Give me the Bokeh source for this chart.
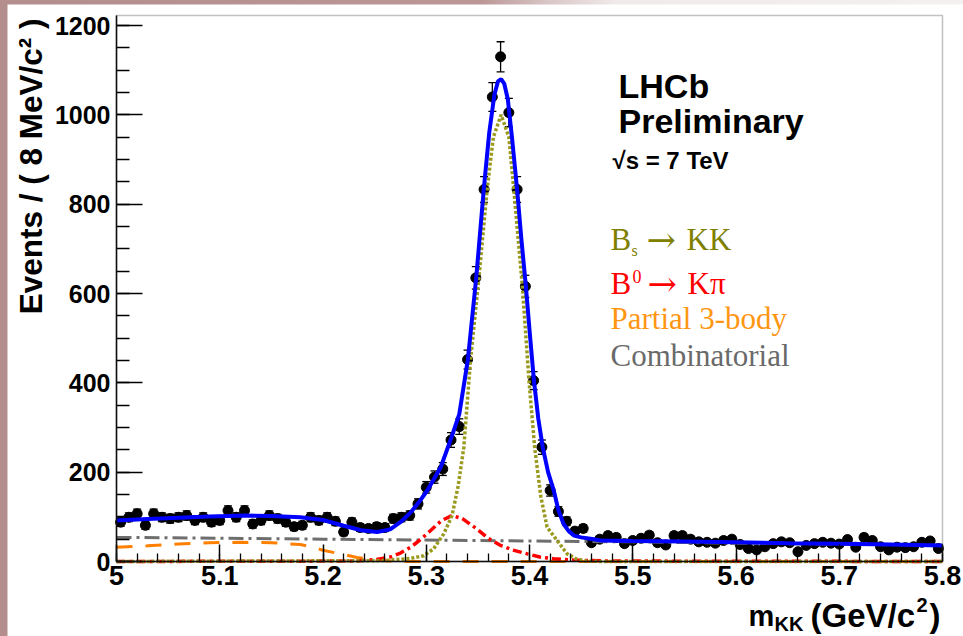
import math

from bokeh.embed import file_html
from bokeh.layouts import column
from bokeh.models import (BoxAnnotation, ColumnDataSource, FixedTicker, Label,
                          NumeralTickFormatter, Range1d, TeeHead, Whisker)
from bokeh.plotting import figure
from bokeh.resources import INLINE

# ---------------------------------------------------------------- data
# m_KK histogram: 100 bins of 8 MeV/c^2 from 5.0 to 5.8 GeV/c^2
BIN_LO = 5.0
BIN_W = 0.008
events = [
    88, 99, 107, 81, 107, 99, 96, 99, 103, 92,
    99, 88, 92, 114, 99, 114, 84, 92, 103, 96,
    88, 78, 81, 99, 92, 99, 90, 66, 88, 76,
    74, 78, 76, 96, 99, 103, 129, 166, 189, 207,
    272, 302, 452, 635, 833, 1040, 1130, 1005, 833, 616,
    405, 256, 159, 112, 90, 68, 74, 42, 50, 58,
    54, 40, 47, 52, 59, 42, 37, 58, 58, 50,
    44, 43, 41, 47, 50, 38, 29, 26, 33, 40,
    44, 42, 22, 36, 40, 43, 41, 39, 49, 32,
    54, 47, 33, 26, 32, 31, 33, 43, 46, 29,
]

# total fit
fit_x = [5.000, 5.030, 5.060, 5.090, 5.125, 5.150, 5.178, 5.200, 5.220, 5.237,
         5.2525, 5.265, 5.275, 5.285, 5.293, 5.301, 5.314, 5.324, 5.332, 5.3403,
         5.3484, 5.3557, 5.361, 5.366, 5.3695, 5.3725, 5.3755, 5.379, 5.383, 5.388,
         5.392, 5.3965, 5.4005, 5.4043, 5.4085, 5.4128, 5.418, 5.4235, 5.428, 5.433,
         5.438, 5.443, 5.450, 5.459, 5.469, 5.500, 5.550, 5.600, 5.650, 5.700,
         5.750, 5.800]
fit_y = [92, 95, 98, 101, 103, 102, 99, 93, 80, 70,
         66, 72, 88, 110, 133, 159, 211, 275, 330, 452,
         635, 833, 960, 1045, 1075, 1080, 1070, 1035, 950, 833,
         725, 616, 505, 405, 320, 256, 200, 159, 115, 84,
         68, 58, 54, 51, 47, 46, 45, 43, 41, 40,
         38, 36]

# Bs -> KK signal
bs_x = [5.000, 5.260, 5.285, 5.2975, 5.307, 5.317, 5.325, 5.331, 5.3364, 5.3429,
        5.351, 5.359, 5.365, 5.3725, 5.380, 5.3848, 5.3931, 5.3995, 5.405, 5.411,
        5.417, 5.4268, 5.4365, 5.445, 5.455, 5.470, 5.800]
bs_y = [0, 2, 7, 13, 28, 62, 103, 170, 256, 452,
        635, 833, 950, 1000, 950, 833, 616, 405, 255, 145,
        77, 47, 17, 6, 1, 0, 0]

# B0 -> K pi reflection
b0_x = [5.000, 5.230, 5.250, 5.265, 5.275, 5.285, 5.295, 5.304, 5.315, 5.325,
        5.335, 5.349, 5.360, 5.372, 5.385, 5.398, 5.410, 5.4235, 5.445, 5.480, 5.800]
b0_y = [0, 1, 4, 10, 19, 32, 50, 69, 92, 103,
        96, 73, 52, 36, 25, 17, 10, 6, 3, 1, 0]

# partially reconstructed 3-body
p3_x = [5.000, 5.030, 5.060, 5.090, 5.120, 5.150, 5.178, 5.190, 5.200, 5.217,
        5.233, 5.250, 5.265, 5.280, 5.300, 5.800]
p3_y = [32, 35, 39, 42, 43, 42, 38, 32, 25, 17,
        9, 3, 1, 0, 0, 0]

# combinatorial background
cb_x = [5.0, 5.1, 5.2, 5.3, 5.4, 5.5, 5.6, 5.7, 5.8]
cb_y = [54, 52, 50, 48, 46, 44, 41, 39, 36]

x_tick_labels = ["5", "5.1", "5.2", "5.3", "5.4", "5.5", "5.6", "5.7", "5.8"]
y_tick_values = [0, 200, 400, 600, 800, 1000, 1200]

# ---------------------------------------------------------------- geometry (page pixels)
PAGE_W, PAGE_H = 963, 636
PAD_L, PAD_T = 7, 4
BOX_L, BOX_T, BOX_W, BOX_H = 116, 15, 826, 546
BOX_B = BOX_T + BOX_H
X_LO, X_HI = 5.0, 5.8
Y_LO = 0.0
Y_HI = BOX_H * 1200.0 / 536.0


def fx(px):
    return X_LO + (px - BOX_L) * (X_HI - X_LO) / BOX_W


def fy(py):
    return Y_LO + (BOX_B - py) * (Y_HI - Y_LO) / BOX_H


# the drawing area spans the whole canvas; the axes sit at the histogram edges
p = figure(width=PAGE_W - PAD_L, height=PAGE_H - PAD_T, title=None,
           x_range=Range1d(fx(PAD_L), fx(PAGE_W)),
           y_range=Range1d(fy(PAGE_H), fy(PAD_T)),
           output_backend="svg", toolbar_location=None, min_border=0)
p.background_fill_color = "white"
p.border_fill_color = "white"
p.outline_line_color = None
p.xgrid.visible = False
p.ygrid.visible = False

x_ticks = [float(s) for s in x_tick_labels]
x_minor = [round(X_LO + 0.02 * k, 3) for k in range(41)]
p.xaxis.ticker = FixedTicker(ticks=x_ticks, minor_ticks=x_minor)
p.xaxis.formatter = NumeralTickFormatter(format="0.[0]")
p.yaxis.ticker = FixedTicker(ticks=y_tick_values, minor_ticks=list(range(0, 1251, 50)))
p.xaxis.fixed_location = Y_LO
p.yaxis.fixed_location = X_LO
p.xaxis.bounds = (X_LO, X_HI)
p.yaxis.bounds = (Y_LO, Y_HI)

for ax in (p.xaxis[0], p.yaxis[0]):
    ax.axis_line_color = "black"
    ax.axis_line_width = 1.5
    ax.major_tick_line_color = "black"
    ax.minor_tick_line_color = "black"
    ax.major_tick_line_width = 1.5
    ax.minor_tick_line_width = 1.3
    ax.major_tick_out = 0
    ax.minor_tick_out = 0
    ax.major_label_text_font = "Liberation Sans"
    ax.major_label_text_font_style = "bold"
    ax.major_label_text_color = "black"
p.yaxis.major_tick_in = 26
p.yaxis.minor_tick_in = 13
p.yaxis.major_label_text_font_size = "25px"
p.yaxis.major_label_standoff = 6
p.xaxis.major_tick_in = 17
p.xaxis.minor_tick_in = 8
p.xaxis.major_label_text_font_size = "27px"
p.xaxis.major_label_standoff = 4

# histogram frame (top and right edges)
p.add_layout(BoxAnnotation(left=X_LO, right=X_HI, bottom=Y_LO, top=Y_HI,
                           fill_alpha=0, line_color="#333333", line_width=1.5))

# ---------------------------------------------------------------- data points
centers = [BIN_LO + BIN_W * (i + 0.5) for i in range(len(events))]
errs = [math.sqrt(v) for v in events]
src = ColumnDataSource(dict(x=centers, y=events,
                            lo=[v - e for v, e in zip(events, errs)],
                            hi=[v + e for v, e in zip(events, errs)]))
p.add_layout(Whisker(source=src, base="x", lower="lo", upper="hi", dimension="height",
                     line_color="black", line_width=1.3,
                     lower_head=TeeHead(size=8, line_color="black", line_width=1.3),
                     upper_head=TeeHead(size=8, line_color="black", line_width=1.3)))
p.scatter("x", "y", source=src, marker="circle", size=10,
          fill_color="black", line_color="black")

# ---------------------------------------------------------------- fit components
p.line(cb_x, cb_y, line_color="#6e6e6e", line_width=3, line_dash="15 5 3 5")
p.line(p3_x, p3_y, line_color="#ff8000", line_width=3, line_dash="16 13")
p.line(b0_x, b0_y, line_color="#ff0000", line_width=3.5, line_dash="9 4 3 4")
p.line(bs_x, bs_y, line_color="#9a9a1e", line_width=3.5, line_dash="3 2")
p.line(fit_x, fit_y, line_color="#0000ff", line_width=4)


# ---------------------------------------------------------------- texts
def add_text(px, py, text, size, color="black", font="Liberation Sans",
             style="bold", align="left", baseline="alphabetic", angle=0.0):
    p.add_layout(Label(x=fx(px), y=fy(py), text=text, text_font=font,
                       text_font_style=style, text_font_size=f"{size}px",
                       text_color=color, text_align=align, text_baseline=baseline,
                       angle=angle))


# axis titles
add_text(30, 18, "Events / ( 8 MeV/c² )", 31.5, align="right", baseline="middle",
         angle=math.pi / 2)
add_text(748, 615, "m", 29)
add_text(774, 623, "KK", 20)
add_text(810, 615, "(GeV/c", 33)
add_text(916, 604, "2", 20)
add_text(929, 615, ")", 33)

add_text(618, 85, "LHCb", 34)
add_text(618, 120, "Preliminary", 34)
add_text(612, 160, "√s = 7 TeV", 24)

# legend
SERIF = "Liberation Serif"
OLIVE = "#808000"
RED = "#ff0000"
add_text(610, 239, "B", 31, OLIVE, SERIF, "normal")
add_text(631, 250, "s", 16, OLIVE, SERIF, "normal")
add_text(646, 239, "→", 35, OLIVE, "DejaVu Serif", "normal")
add_text(686, 239, "KK", 31, OLIVE, SERIF, "normal")
add_text(610, 283, "B", 31, RED, SERIF, "normal")
add_text(632, 276, "0", 18, RED, SERIF, "normal")
add_text(647, 283, "→", 35, RED, "DejaVu Serif", "normal")
add_text(687, 283, "Kπ", 31, RED, SERIF, "normal")
add_text(610, 318, "Partial 3-body", 31, "#ff9612", SERIF, "normal")
add_text(610, 355, "Combinatorial", 31, "#6a6a6a", SERIF, "normal")

p.margin = (PAD_T, 0, 0, PAD_L)
page = column(p, styles={
    "background": "linear-gradient(90deg, #b48d8d 0%, #bc9797 50%, #d9c6c6 57%, "
                  "#f1eaea 64%, #f4f0f0 100%)"})

open("out.html", "w").write(file_html(page, INLINE))
